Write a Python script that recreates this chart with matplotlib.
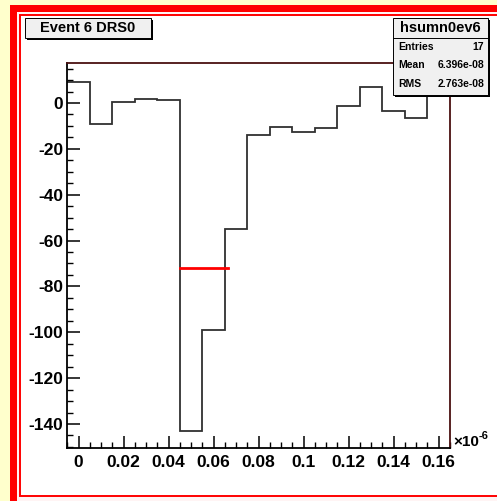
import numpy as np
import matplotlib
matplotlib.use('Agg')
import matplotlib.pyplot as plt
from matplotlib.patches import Rectangle

# ============================================================
# Data
# ============================================================
bin_edges = np.round(np.arange(-0.005, 0.1700, 0.01), 3)   # x in units of 1e-6
bin_values = [9.3, -9.2, 0.6, 1.9, 1.5, -143.0, -99.0, -55.0, -13.8,
              -10.3, -12.5, -11.1, -1.2, 7.1, -3.3, -6.5, 4.0]
half_level = -71.8
half_x = [0.045, 0.0665]

x_ticks = [0, 0.02, 0.04, 0.06, 0.08, 0.1, 0.12, 0.14, 0.16]
x_ticklabels = ['0', '0.02', '0.04', '0.06', '0.08', '0.1', '0.12', '0.14', '0.16']
y_ticks = [0, -20, -40, -60, -80, -100, -120, -140]

title = 'Event 6 DRS0'
stats_name = 'hsumn0ev6'
stats_rows = [('Entries', '17'), ('Mean', '6.396e-08'), ('RMS', '2.763e-08')]

# ============================================================
# Style
# ============================================================
plt.rcParams['font.family'] = ['Liberation Sans', 'DejaVu Sans']
plt.rcParams['font.weight'] = 'bold'
plt.rcParams['axes.unicode_minus'] = False

W, H = 497, 501
fig = plt.figure(figsize=(W / 100, H / 100), dpi=100)
fig.patch.set_facecolor('#ffffcc')


def px(x):
    return x / W


def py(y):
    return 1 - y / H


def rect(x0, y0, x1, y1, **kw):
    r = Rectangle((px(x0), py(y1)), px(x1) - px(x0), py(y0) - py(y1),
                  transform=fig.transFigure, **kw)
    fig.add_artist(r)
    return r


# canvas / pad borders
rect(10, 5, 510, 510, facecolor='red', edgecolor='none', zorder=-3)
rect(17, 12, 510, 510, facecolor='#fff4f4', edgecolor='none', zorder=-2)
rect(20, 15, 520, 496, facecolor='white', edgecolor='red', linewidth=1.4, zorder=-1)

# ============================================================
# Axes
# ============================================================
ax = fig.add_axes([px(67.3), py(448.3), px(450) - px(67.3), py(63.3) - py(448.3)])
ax.set_facecolor('white')

ax.stairs(bin_values, bin_edges, baseline=None, color='#303030', linewidth=1.3)
ax.plot(half_x, [half_level, half_level], color='red', linewidth=2.0)

ax.set_xlim(-0.005, 0.165)
ax.set_ylim(-150.6, 17.3)

ax.set_xticks(x_ticks)
ax.set_xticklabels(x_ticklabels)
ax.set_yticks(y_ticks)
ax.set_xticks(np.arange(-0.005, 0.1651, 0.005), minor=True)
ax.set_yticks(np.arange(-150, 17, 5), minor=True)

ax.tick_params(axis='both', which='major', direction='in', length=9, width=1.1,
               labelsize=12.5, color='black')
ax.tick_params(axis='both', which='minor', direction='in', length=4.5, width=1.0,
               color='black')
ax.tick_params(axis='x', pad=4.5)
ax.tick_params(axis='y', pad=3)
ax.tick_params(top=False, right=False, which='both')
for lab in ax.get_xticklabels() + ax.get_yticklabels():
    lab.set_fontweight('bold')

ax.spines['top'].set_color('#4a1010')
ax.spines['right'].set_color('#4a1010')
for s in ax.spines.values():
    s.set_linewidth(1.3)

# x10^-6 exponent label
fig.text(px(453), py(441.5), '\u00d710', fontsize=11, fontweight='bold',
         ha='left', va='center', color='black')
fig.text(px(479), py(436), '-6', fontsize=8, fontweight='bold',
         ha='left', va='center', color='black')

# ============================================================
# Title box
# ============================================================
rect(27, 20, 153, 40, facecolor='black', edgecolor='none', zorder=5)
rect(25, 18, 151, 38, facecolor='#f0f0f0', edgecolor='black', linewidth=0.7, zorder=6)
fig.text(px(88), py(28.5), title, fontsize=10.5, fontweight='bold',
         ha='center', va='center', zorder=7)

# ============================================================
# Stats box
# ============================================================
rect(395, 20, 490, 97, facecolor='black', edgecolor='none', zorder=5)
rect(393, 18, 488, 95, facecolor='#f0f0f0', edgecolor='black', linewidth=0.7, zorder=6)
fig.add_artist(plt.Line2D([px(393), px(488)], [py(38), py(38)],
                          transform=fig.transFigure, color='black', linewidth=0.7, zorder=7))
fig.text(px(440.5), py(28), stats_name, fontsize=10.5, fontweight='bold',
         ha='center', va='center', zorder=7)
for k, (name, val) in enumerate(stats_rows):
    yy = 47 + k * 18.5
    fig.text(px(398), py(yy), name, fontsize=7.5, fontweight='bold',
             ha='left', va='center', zorder=7)
    fig.text(px(484), py(yy), val, fontsize=7.5, fontweight='bold',
             ha='right', va='center', zorder=7)

fig.savefig('out.png', dpi=100, facecolor=fig.get_facecolor())
